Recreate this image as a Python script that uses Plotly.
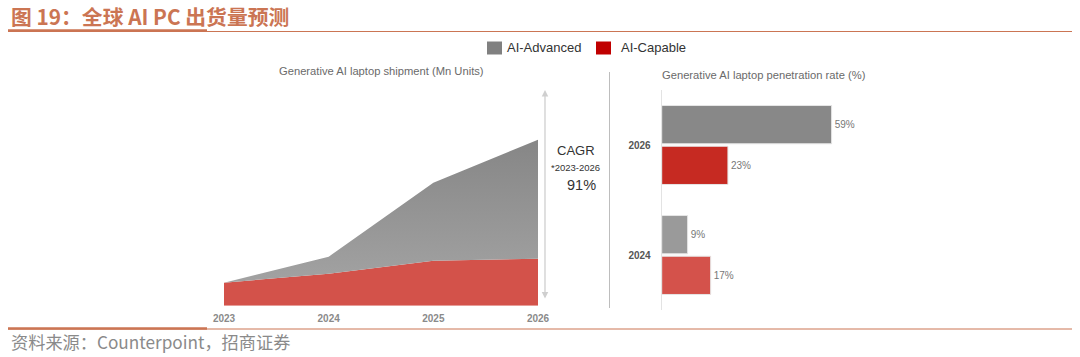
import plotly.graph_objects as go

# ---- data ----
years = [2023, 2024, 2025, 2026]
ai_capable_ship = [23, 32, 45, 47]      # Mn units (approx.)
ai_advanced_ship = [0, 17, 78, 119]     # Mn units stacked on top (approx.)

pen_years = ["2024", "2026"]
pen_advanced = [9, 59]
pen_capable = [17, 23]

cagr_label = "91%"

W, H = 1080, 357
def px(x): return x / W
def py(y): return (H - y) / H

FONT = "Liberation Sans, Arial, Noto Sans CJK SC"
CJK = "Noto Sans CJK SC, Liberation Sans"
ORANGE = "#cb7553"

fig = go.Figure()

# left: stacked area
fig.add_trace(go.Scatter(
    x=years, y=ai_capable_ship, stackgroup="s", mode="lines",
    line=dict(width=0, color="#d3524a"), fillcolor="#d3524a",
    name="AI-Capable", showlegend=False, xaxis="x", yaxis="y", hoverinfo="skip"))
fig.add_trace(go.Scatter(
    x=years, y=ai_advanced_ship, stackgroup="s", mode="lines",
    line=dict(width=0, color="#929292"),
    fillgradient=dict(type="vertical", colorscale=[[0, "#a2a2a2"], [1, "#868686"]]),
    name="AI-Advanced", showlegend=False, xaxis="x", yaxis="y", hoverinfo="skip"))

# right: horizontal bars
fig.add_trace(go.Bar(
    y=pen_years, x=pen_capable, orientation="h", name="AI-Capable",
    marker=dict(color=["#d4524b", "#c62a22"], line=dict(color="#e6e6e6", width=1)),
    text=[f"{v}%" for v in pen_capable], textposition="outside",
    textfont=dict(size=10, color="#777777", family=FONT), cliponaxis=False,
    showlegend=False, xaxis="x2", yaxis="y2", hoverinfo="skip"))
fig.add_trace(go.Bar(
    y=pen_years, x=pen_advanced, orientation="h", name="AI-Advanced",
    marker=dict(color=["#9a9a9a", "#888888"], line=dict(color="#e6e6e6", width=1)),
    text=[f"{v}%" for v in pen_advanced], textposition="outside",
    textfont=dict(size=10, color="#777777", family=FONT), cliponaxis=False,
    showlegend=False, xaxis="x2", yaxis="y2", hoverinfo="skip"))

shapes = [
    # title underline
    dict(type="line", xref="paper", yref="paper", x0=px(8), x1=px(1072), y0=py(31.5), y1=py(31.5),
         line=dict(color=ORANGE, width=1)),
    dict(type="line", xref="paper", yref="paper", x0=px(8), x1=px(207), y0=py(30.5), y1=py(30.5),
         line=dict(color=ORANGE, width=2.5)),
    # bottom line
    dict(type="line", xref="paper", yref="paper", x0=px(8), x1=px(1072), y0=py(329), y1=py(329),
         line=dict(color=ORANGE, width=1)),
    dict(type="line", xref="paper", yref="paper", x0=px(8), x1=px(207), y0=py(328.5), y1=py(328.5),
         line=dict(color=ORANGE, width=2.5)),
    # divider
    dict(type="line", xref="paper", yref="paper", x0=px(609.5), x1=px(609.5), y0=py(72), y1=py(308),
         line=dict(color="#bdbdbd", width=1)),
    # legend swatches
    dict(type="rect", xref="paper", yref="paper", x0=px(487), x1=px(502), y0=py(41.5), y1=py(54.5),
         fillcolor="#808080", line=dict(width=0)),
    dict(type="rect", xref="paper", yref="paper", x0=px(596), x1=px(611), y0=py(41.5), y1=py(54.5),
         fillcolor="#c00000", line=dict(width=0)),
]

annotations = [
    dict(text="<b>图 19：全球 AI PC 出货量预测</b>", xref="paper", yref="paper",
         x=px(9), y=py(16), xanchor="left", yanchor="middle", showarrow=False,
         font=dict(family=CJK, size=20.8, color=ORANGE)),
    dict(text="资料来源：Counterpoint，招商证券", xref="paper", yref="paper",
         x=px(9), y=py(341), xanchor="left", yanchor="middle", showarrow=False,
         font=dict(family=CJK, size=17.2, color="#8a8a8a")),
    dict(text="AI-Advanced", xref="paper", yref="paper", x=px(505), y=py(48),
         xanchor="left", yanchor="middle", showarrow=False,
         font=dict(family=FONT, size=13, color="#333333")),
    dict(text="AI-Capable", xref="paper", yref="paper", x=px(619), y=py(48),
         xanchor="left", yanchor="middle", showarrow=False,
         font=dict(family=FONT, size=13, color="#333333")),
    dict(text="Generative AI laptop shipment (Mn Units)", xref="paper", yref="paper",
         x=px(381), y=py(71), xanchor="center", yanchor="middle", showarrow=False,
         font=dict(family=FONT, size=11.2, color="#6a6a6a")),
    dict(text="Generative AI laptop penetration rate (%)", xref="paper", yref="paper",
         x=px(764), y=py(74.5), xanchor="center", yanchor="middle", showarrow=False,
         font=dict(family=FONT, size=11.2, color="#6a6a6a")),
    dict(text="CAGR", xref="paper", yref="paper", x=px(575.6), y=py(150.5),
         xanchor="center", yanchor="middle", showarrow=False,
         font=dict(family=FONT, size=13, color="#333333")),
    dict(text="*2023-2026", xref="paper", yref="paper", x=px(575.7), y=py(167),
         xanchor="center", yanchor="middle", showarrow=False,
         font=dict(family=FONT, size=9.5, color="#333333")),
    dict(text=cagr_label, xref="paper", yref="paper", x=px(581.5), y=py(185),
         xanchor="center", yanchor="middle", showarrow=False,
         font=dict(family=FONT, size=14.5, color="#333333")),
    # double arrow
    dict(text="", xref="paper", yref="paper", x=px(545), y=py(90), ax=0, ay=210,
         showarrow=True, arrowside="end+start", arrowhead=2, arrowsize=1,
         arrowwidth=1.3, arrowcolor="#cfcfcf"),
]

fig.update_layout(
    width=W, height=H, margin=dict(l=0, r=0, t=0, b=0, autoexpand=False),
    paper_bgcolor="white", plot_bgcolor="rgba(0,0,0,0)",
    showlegend=False, barmode="group", bargap=0.26, bargroupgap=0.06,
    shapes=shapes, annotations=annotations,
    xaxis=dict(domain=[px(224), px(538)], range=[2023, 2026], tickvals=years,
               ticktext=[f"<b>{y}</b>" for y in years], showgrid=False, zeroline=False,
               showline=False, ticks="", automargin=False, ticklabelstandoff=5,
               tickfont=dict(family=FONT, size=10, color="#8a8a8a")),
    yaxis=dict(domain=[py(305.7), py(90)], range=[0, 215.7], visible=False),
    xaxis2=dict(domain=[px(661.7), px(949.7)], range=[0, 100], visible=False, anchor="y2"),
    yaxis2=dict(domain=[py(310), py(90)], range=[-0.5, 1.5], type="category",
                categoryarray=pen_years, categoryorder="array", anchor="x2",
                showgrid=False, zeroline=False, showline=True, linecolor="#e3e3e3",
                linewidth=1, ticks="", ticklabelstandoff=8, automargin=False,
                tickvals=pen_years, ticktext=[f"<b>{y}</b>" for y in pen_years],
                tickfont=dict(family=FONT, size=10, color="#555555")),
)

fig.write_html("out.html", config={"displayModeBar": False},
               post_script="document.body.style.margin='0';document.body.style.overflow='hidden';")
